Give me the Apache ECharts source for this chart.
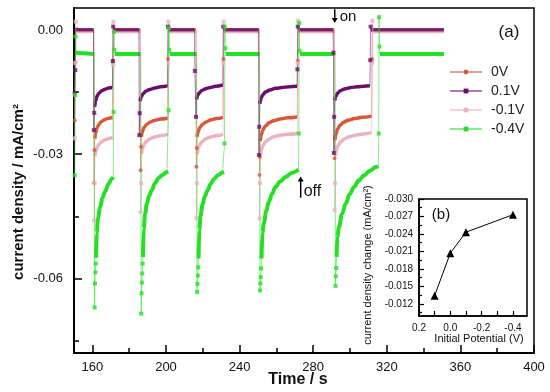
<!DOCTYPE html>
<html>
<head>
<meta charset="utf-8">
<script src="https://cdn.jsdelivr.net/npm/echarts@6/dist/echarts.min.js"></script>
<style>
html,body{margin:0;padding:0;background:#fff;}
#c{width:550px;height:392px;}
</style>
</head>
<body>
<div id="c"></div>
<script>
// ---------- data (time / s, current density / mA cm^-2) ----------
const seriesNames = ['0V', '0.1V', '-0.1V', '-0.4V'];

// 0V
const v0Jumps = [[150.4,-0.0218],[150.7,-0.0078],[160.9,-0.0370],[161.1,-0.0290],[171.1,-0.0077],
  [186.2,-0.0339],[186.4,-0.0282],[201.1,-0.0070],[216.5,-0.0330],[216.7,-0.0285],[231.2,-0.0070],
  [250.8,-0.0350],[251.0,-0.0307],[271.6,-0.0075],[291.6,-0.0310],[312.0,-0.0070]];
const v0Bands = [
  [[151.0,0.0],[160.7,0.0]],
  [[161.3,-0.0262],[161.8,-0.0248],[162.5,-0.0237],[163.5,-0.0228],[165.0,-0.0221],[167.0,-0.0216],[169.0,-0.0213],[170.9,-0.0211]],
  [[171.3,0.0],[186.0,0.0]],
  [[186.6,-0.0258],[187.1,-0.0246],[188.0,-0.0236],[189.5,-0.0228],[191.5,-0.0222],[194.0,-0.0218],[197.0,-0.0215],[200.9,-0.0213]],
  [[201.3,0.0],[216.3,0.0]],
  [[216.9,-0.0258],[217.4,-0.0246],[218.3,-0.0236],[219.8,-0.0228],[221.8,-0.0222],[224.5,-0.0217],[227.5,-0.0214],[231.0,-0.0211]],
  [[231.4,0.0],[250.6,0.0]],
  [[251.2,-0.0268],[251.7,-0.0254],[252.6,-0.0242],[254.0,-0.0232],[256.0,-0.0224],[258.5,-0.0219],[262.0,-0.0215],[266.0,-0.0212],[271.4,-0.0210]],
  [[271.8,0.0],[291.4,0.0]],
  [[291.8,-0.0266],[292.3,-0.0252],[293.2,-0.0240],[294.6,-0.0230],[296.5,-0.0223],[299.0,-0.0218],[302.5,-0.0214],[306.5,-0.0211],[311.8,-0.0208]],
  [[312.2,0.0],[351.0,0.0]]
];

// 0.1V
const v01Jumps = [[150.4,-0.0152],[150.7,-0.0097],[160.8,-0.0242],[161.0,-0.0200],[171.1,-0.0075],[171.3,0.0008],
  [185.5,-0.0254],[185.7,-0.0201],[201.1,0.0008],[215.7,-0.0099],[216.3,-0.0210],[231.1,0.0008],
  [250.5,-0.0302],[250.7,-0.0234],[271.4,-0.0095],[271.6,0.0008],[291.0,-0.0055],[291.2,-0.0297],[291.4,-0.0210],
  [311.0,-0.0073],[311.2,0.0008]];
const v01Bands = [
  [[151.0,0.0005],[151.3,0.0],[160.6,0.0]],
  [[161.2,-0.0186],[161.8,-0.0170],[162.5,-0.0160],[163.5,-0.0153],[165.0,-0.0147],[167.0,-0.0143],[169.0,-0.0140],[170.9,-0.0139]],
  [[171.5,0.0],[185.3,0.0]],
  [[185.9,-0.0172],[186.5,-0.0162],[187.5,-0.0154],[189.0,-0.0148],[191.0,-0.0144],[194.0,-0.0140],[197.0,-0.0137],[200.9,-0.0135]],
  [[201.3,0.0],[215.5,0.0]],
  [[216.6,-0.0168],[217.2,-0.0158],[218.0,-0.0152],[219.5,-0.0146],[221.5,-0.0142],[224.0,-0.0139],[227.0,-0.0136],[230.9,-0.0133]],
  [[231.3,0.0],[250.3,0.0]],
  [[251.0,-0.0178],[251.6,-0.0166],[252.5,-0.0157],[254.0,-0.0150],[256.5,-0.0145],[259.5,-0.0141],[263.0,-0.0139],[267.0,-0.0137],[271.2,-0.0136]],
  [[271.8,0.0],[290.8,0.0]],
  [[291.7,-0.0170],[292.3,-0.0160],[293.3,-0.0152],[295.0,-0.0146],[297.5,-0.0142],[300.5,-0.0139],[304.0,-0.0137],[307.5,-0.0136],[310.8,-0.0135]],
  [[311.4,0.0],[351.0,0.0]]
];

// -0.1V
const vm01Jumps = [[150.4,-0.0262],[150.7,-0.0080],[150.9,0.0020],[161.0,-0.0460],[161.2,-0.0370],[171.2,-0.0085],[171.4,0.0020],
  [186.3,-0.0440],[186.5,-0.0370],[201.2,-0.0080],[201.4,0.0020],[216.6,-0.0455],[216.8,-0.0370],[231.2,-0.0080],[231.4,0.0020],
  [250.9,-0.0455],[251.1,-0.0370],[271.6,-0.0080],[271.8,0.0022],[291.7,-0.0435],[291.9,-0.0370],[312.0,-0.0080],[312.2,0.0022]];
const vm01Bands = [
  [[151.2,-0.0004],[160.8,-0.0004]],
  [[161.4,-0.0305],[161.9,-0.0292],[162.6,-0.0283],[163.6,-0.0276],[165.0,-0.0270],[167.0,-0.0265],[169.0,-0.0262],[171.0,-0.0260]],
  [[171.7,-0.0004],[186.1,-0.0004]],
  [[186.7,-0.0300],[187.2,-0.0286],[188.1,-0.0276],[189.6,-0.0268],[191.6,-0.0262],[194.2,-0.0258],[197.2,-0.0255],[201.0,-0.0252]],
  [[201.7,-0.0004],[216.4,-0.0004]],
  [[217.0,-0.0300],[217.5,-0.0286],[218.4,-0.0276],[219.9,-0.0268],[221.9,-0.0262],[224.6,-0.0258],[227.6,-0.0255],[231.0,-0.0252]],
  [[231.7,-0.0004],[250.7,-0.0004]],
  [[251.3,-0.0304],[251.8,-0.0290],[252.7,-0.0279],[254.1,-0.0270],[256.1,-0.0263],[258.6,-0.0258],[262.1,-0.0254],[266.1,-0.0252],[271.4,-0.0250]],
  [[272.1,-0.0004],[291.5,-0.0004]],
  [[292.1,-0.0304],[292.6,-0.0290],[293.5,-0.0279],[295.0,-0.0270],[297.0,-0.0263],[299.5,-0.0258],[303.0,-0.0254],[307.0,-0.0251],[311.8,-0.0248]],
  [[312.5,-0.0004],[351.0,-0.0004]]
];

// -0.4V
const vm04Jumps = [[150.4,-0.0351],[150.6,-0.0157],[150.8,-0.0016],
  [161.2,-0.0670],[161.4,-0.0612],[161.6,-0.0585],[161.8,-0.0564],[171.5,-0.0198],[171.7,-0.0005],[171.9,-0.0048],
  [186.5,-0.0685],[186.7,-0.0636],[186.9,-0.0610],[187.1,-0.0588],[187.3,-0.0564],[201.4,-0.0194],[201.6,0.0005],[201.8,-0.0048],
  [216.9,-0.0633],[217.1,-0.0613],[217.3,-0.0593],[217.5,-0.0573],[231.8,-0.0274],[232.0,0.0008],[232.2,-0.0044],
  [251.1,-0.0629],[251.3,-0.0612],[251.5,-0.0597],[251.7,-0.0576],[272.2,-0.0250],[272.4,0.0017],[272.6,-0.0050],
  [292.1,-0.0618],[292.3,-0.0595],[292.5,-0.0575],[315.6,-0.0250],[315.8,0.0031],[316.0,-0.0040]];
const vm04Bands = [
  [[151.1,-0.0055],[161.0,-0.0058]],
  [[162.0,-0.0550],[162.4,-0.0490],[163.0,-0.0455],[164.2,-0.0428],[165.5,-0.0405],[166.9,-0.0390],[168.7,-0.0372],[170.5,-0.0360],[171.3,-0.0355]],
  [[172.2,-0.0058],[186.3,-0.0058]],
  [[187.5,-0.0548],[187.9,-0.0480],[188.6,-0.0445],[189.6,-0.0419],[190.9,-0.0400],[192.3,-0.0387],[194.0,-0.0370],[195.9,-0.0358],[198.0,-0.0350],[200.5,-0.0343],[201.2,-0.0342]],
  [[202.1,-0.0058],[216.7,-0.0058]],
  [[217.7,-0.0552],[218.1,-0.0483],[218.8,-0.0448],[219.8,-0.0422],[221.1,-0.0402],[222.5,-0.0388],[224.2,-0.0372],[226.1,-0.0360],[228.2,-0.0351],[230.7,-0.0344],[231.6,-0.0343]],
  [[232.5,-0.0058],[250.9,-0.0058]],
  [[251.9,-0.0552],[252.4,-0.0490],[253.2,-0.0467],[254.4,-0.0438],[255.9,-0.0415],[257.6,-0.0396],[259.5,-0.0379],[262.0,-0.0366],[265.0,-0.0355],[268.5,-0.0345],[272.0,-0.0337]],
  [[272.9,-0.0058],[291.9,-0.0058]],
  [[292.7,-0.0548],[293.1,-0.0500],[294.0,-0.0476],[295.6,-0.0445],[297.7,-0.0419],[299.8,-0.0397],[302.2,-0.0379],[304.8,-0.0363],[307.7,-0.0351],[310.8,-0.0340],[314.0,-0.0331],[315.4,-0.0329]],
  [[316.3,-0.0058],[351.0,-0.0058]]
];

// inset (b)
const insetPotential = [0.1, 0.0, -0.1, -0.4];
const insetChange = [-0.0134, -0.0207, -0.0243, -0.0273];

// ticks
const mainXTicks = [160, 200, 240, 280, 320, 360, 400];
const mainXMinor = [180, 220, 260, 300, 340, 380];
const mainYTicks = [0, -0.03, -0.06];
const mainYMinor = [-0.015, -0.045, -0.075];
const insetXTicks = [0.2, 0.0, -0.2, -0.4];
const insetXMinor = [0.1, -0.1, -0.3];
const insetYTicks = [-0.030, -0.027, -0.024, -0.021, -0.018, -0.015, -0.012];
const insetYMinor = [-0.0285, -0.0255, -0.0225, -0.0195, -0.0165, -0.0135, -0.0105];

// annotation anchors (data coords)
const onArrow = [291.7, 0.0050, 0.0017];
const offArrow = [273.2, -0.0354, -0.0405];

// ---------- build ----------
const FONT = 'Liberation Sans, Arial, sans-serif';
const colors = ['#D9573A', '#69106F', '#EBB3BF', '#25E025'];
const symbols = ['circle', 'rect', 'rect', 'rect'];
const jumpsAll = [v0Jumps, v01Jumps, vm01Jumps, vm04Jumps];
const bandsAll = [v0Bands, v01Bands, vm01Bands, vm04Bands];

function traceOf(i) {
  const pts = jumpsAll[i].concat(...bandsAll[i]);
  return pts.slice().sort((a, b) => a[0] - b[0]);
}
function bandOf(i) {
  const out = [];
  bandsAll[i].forEach((seg, k) => {
    if (k > 0) out.push([seg[0][0], null]);
    seg.forEach(p => out.push(p));
  });
  return out;
}

const order = [0, 2, 1, 3];
const series = [];
order.forEach(i => {
  series.push({
    name: seriesNames[i] + ' band', type: 'line', xAxisIndex: 0, yAxisIndex: 0,
    data: bandOf(i), showSymbol: false, smooth: 0.35, smoothMonotone: 'x',
    connectNulls: false, silent: true, animation: false, z: 2,
    lineStyle: { color: colors[i], width: i === 3 ? 4 : 3.5 }
  });
});
order.forEach(i => {
  series.push({
    name: seriesNames[i], type: 'line', xAxisIndex: 0, yAxisIndex: 0,
    data: traceOf(i), symbol: symbols[i], symbolSize: 4, showSymbol: false,
    animation: false, z: 3,
    lineStyle: { color: colors[i], width: 1, opacity: 0.55 },
    itemStyle: { color: colors[i] }
  });
});
order.forEach(i => {
  series.push({
    name: seriesNames[i] + ' pts', type: 'scatter', xAxisIndex: 0, yAxisIndex: 0,
    data: jumpsAll[i], symbol: symbols[i], symbolSize: 4, animation: false, z: 4,
    itemStyle: { color: colors[i] }
  });
});
series.push({
  name: 'inset', type: 'line', xAxisIndex: 2, yAxisIndex: 2,
  data: insetPotential.map((p, k) => [p, insetChange[k]]),
  symbol: 'triangle', symbolSize: 8, animation: false,
  lineStyle: { color: '#000', width: 1 }, itemStyle: { color: '#000' }
});

const chart = echarts.init(document.getElementById('c'), null, { renderer: 'canvas' });

chart.setOption({
  backgroundColor: '#fff',
  animation: false,
  grid: [
    { left: 74, right: 16, top: 8, bottom: 39, show: true, borderColor: '#000', borderWidth: 1.5 },
    { left: 419, right: 23, top: 199, bottom: 76, show: true, borderColor: '#000', borderWidth: 1.5, backgroundColor: '#fff' }
  ],
  legend: {
    data: seriesNames, orient: 'vertical', left: 444, top: 59,
    itemWidth: 32, itemHeight: 6, itemGap: 3,
    textStyle: { fontSize: 14, fontFamily: FONT, color: '#222', padding: [0, 0, 0, 4], lineHeight: 16 }
  },
  xAxis: [
    { type: 'value', gridIndex: 0, min: 150, max: 400,
      axisLine: { show: true, onZero: false, lineStyle: { color: '#000', width: 2 } },
      axisTick: { inside: true, length: 8, customValues: mainXTicks, lineStyle: { color: '#000', width: 1.5 } },
      axisLabel: { customValues: mainXTicks, margin: 8, fontSize: 13, fontFamily: FONT, color: '#111' },
      splitLine: { show: false } },
    { type: 'value', gridIndex: 0, min: 150, max: 400, position: 'bottom',
      axisLine: { show: false, onZero: false },
      axisTick: { inside: true, length: 5, customValues: mainXMinor, lineStyle: { color: '#000', width: 1.5 } },
      axisLabel: { show: false }, splitLine: { show: false } },
    { type: 'value', gridIndex: 1, min: -0.49, max: 0.2, inverse: true,
      axisLine: { show: true, onZero: false, lineStyle: { color: '#000', width: 1.5 } },
      axisTick: { inside: true, length: 5, customValues: insetXTicks, lineStyle: { color: '#000', width: 1.2 } },
      axisLabel: { customValues: insetXTicks, margin: 7, fontSize: 10, fontFamily: FONT, color: '#111',
        formatter: v => v.toFixed(1) },
      splitLine: { show: false } },
    { type: 'value', gridIndex: 1, min: -0.49, max: 0.2, inverse: true, position: 'bottom',
      axisLine: { show: false, onZero: false },
      axisTick: { inside: true, length: 5, customValues: insetXMinor, lineStyle: { color: '#000', width: 1.2 } },
      axisLabel: { show: false }, splitLine: { show: false } }
  ],
  yAxis: [
    { type: 'value', gridIndex: 0, min: -0.078, max: 0.0053,
      axisLine: { show: true, onZero: false, lineStyle: { color: '#000', width: 2 } },
      axisTick: { inside: true, length: 8, customValues: mainYTicks, lineStyle: { color: '#000', width: 1.5 } },
      axisLabel: { customValues: mainYTicks, margin: 11, fontSize: 13, fontFamily: FONT, color: '#111',
        formatter: v => v.toFixed(2) },
      splitLine: { show: false } },
    { type: 'value', gridIndex: 0, min: -0.078, max: 0.0053, position: 'left',
      axisLine: { show: false, onZero: false },
      axisTick: { inside: true, length: 5, customValues: mainYMinor, lineStyle: { color: '#000', width: 1.5 } },
      axisLabel: { show: false }, splitLine: { show: false } },
    { type: 'value', gridIndex: 1, min: -0.030, max: -0.0099, inverse: true,
      axisLine: { show: true, onZero: false, lineStyle: { color: '#000', width: 1.5 } },
      axisTick: { inside: true, length: 5, customValues: insetYTicks, lineStyle: { color: '#000', width: 1.2 } },
      axisLabel: { customValues: insetYTicks, margin: 6, fontSize: 10, fontFamily: FONT, color: '#111',
        formatter: v => v.toFixed(3) },
      splitLine: { show: false } },
    { type: 'value', gridIndex: 1, min: -0.030, max: -0.0099, inverse: true, position: 'left',
      axisLine: { show: false, onZero: false },
      axisTick: { inside: true, length: 3, customValues: insetYMinor, lineStyle: { color: '#000', width: 1.2 } },
      axisLabel: { show: false }, splitLine: { show: false } }
  ],
  series: series
});

// annotations
const onTop = chart.convertToPixel({ gridIndex: 0 }, [onArrow[0], onArrow[1]]);
const onBot = chart.convertToPixel({ gridIndex: 0 }, [onArrow[0], onArrow[2]]);
const offTop = chart.convertToPixel({ gridIndex: 0 }, [offArrow[0], offArrow[1]]);
const offBot = chart.convertToPixel({ gridIndex: 0 }, [offArrow[0], offArrow[2]]);

function textEl(text, x, y, size, opts) {
  return Object.assign({
    type: 'text', x: x, y: y, z: 100,
    style: Object.assign({ text: text, fill: '#111', fontSize: size, fontFamily: FONT,
      textAlign: 'center', textVerticalAlign: 'middle' }, (opts && opts.style) || {})
  }, (opts && opts.el) || {});
}

chart.setOption({
  graphic: [
    textEl('current density / mA/cm²', 19, 192, 15, { style: { fontWeight: 'bold' }, el: { rotation: Math.PI / 2 } }),
    textEl('Time / s', 298, 380, 16, { style: { fontWeight: 'bold' } }),
    textEl('(a)', 509, 32, 17),
    textEl('(b)', 441, 215, 15),
    textEl('current density change (mA/cm²)', 368, 265, 11, { el: { rotation: Math.PI / 2 } }),
    textEl('Initial Potential (V)', 479, 339, 11),
    textEl('on', onTop[0] + 5, (onTop[1] + onBot[1]) / 2 + 1, 15, { style: { textAlign: 'left' } }),
    textEl('off', offTop[0] + 3, offBot[1] - 6, 16, { style: { textAlign: 'left' } }),
    { type: 'line', z: 100, shape: { x1: onTop[0], y1: onTop[1], x2: onBot[0], y2: onBot[1] - 4 },
      style: { stroke: '#000', lineWidth: 1.5 } },
    { type: 'polygon', z: 100, shape: { points: [[onBot[0] - 3, onBot[1] - 5], [onBot[0] + 3, onBot[1] - 5], [onBot[0], onBot[1]]] },
      style: { fill: '#000' } },
    { type: 'line', z: 100, shape: { x1: offBot[0], y1: offBot[1], x2: offTop[0], y2: offTop[1] + 4 },
      style: { stroke: '#000', lineWidth: 1.5 } },
    { type: 'polygon', z: 100, shape: { points: [[offTop[0] - 3, offTop[1] + 5], [offTop[0] + 3, offTop[1] + 5], [offTop[0], offTop[1]]] },
      style: { fill: '#000' } }
  ]
});
</script>
</body>
</html>
